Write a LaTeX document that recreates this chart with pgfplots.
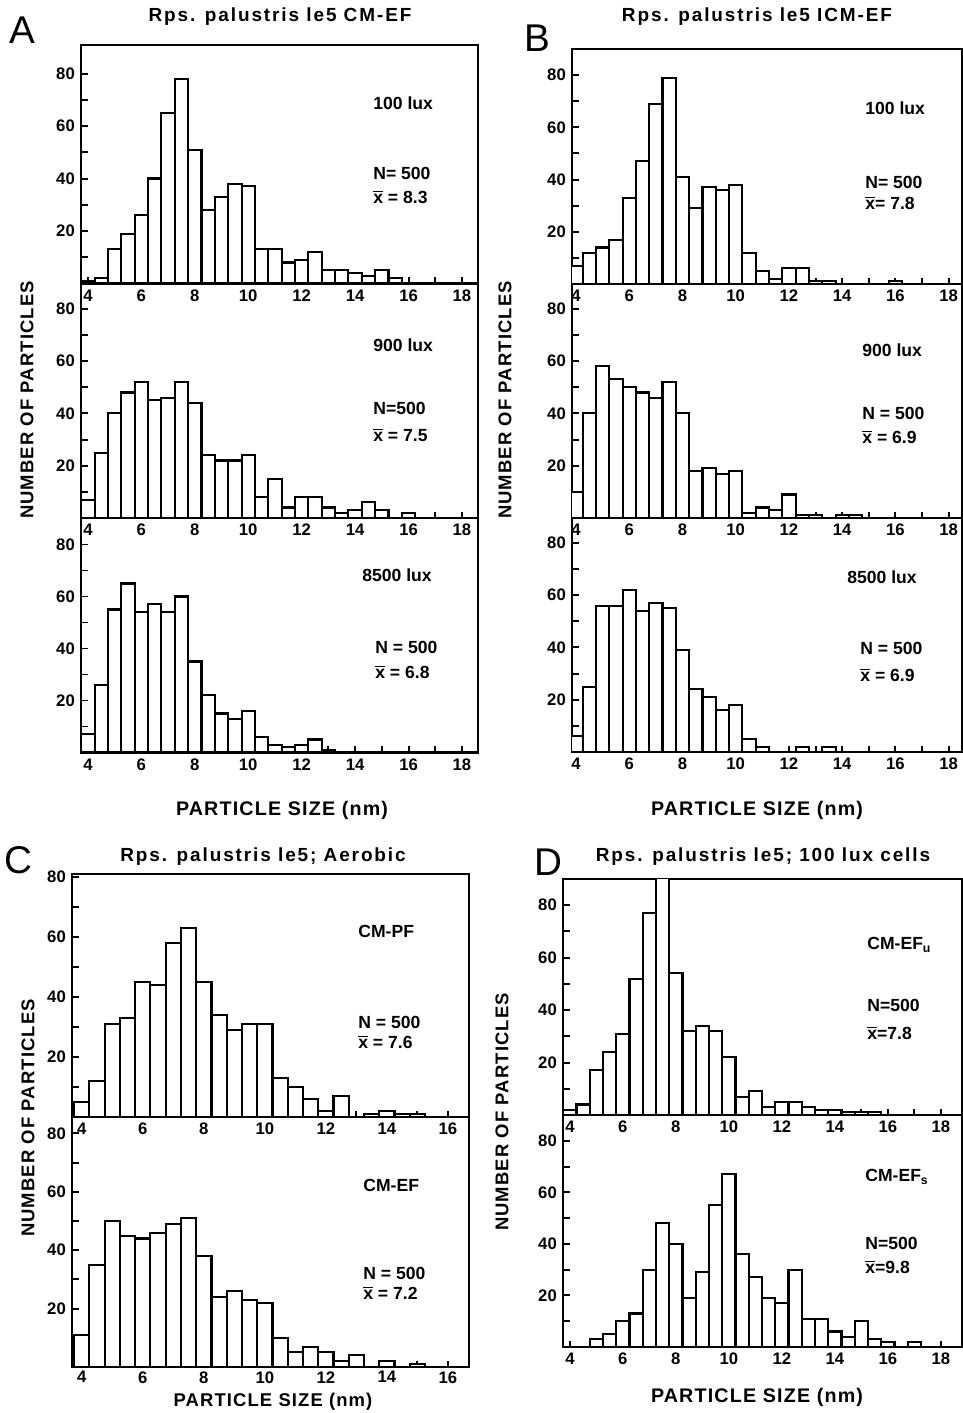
\documentclass[border=0pt]{standalone}
\usepackage{fontspec}
\setmainfont{Liberation Sans}
\newfontfamily\spaced{Liberation Sans}[LetterSpace=6]
\newfontfamily\wide{Liberation Sans}[LetterSpace=10]
\usepackage{pgfplots}
\pgfplotsset{compat=1.18}

\newcommand\xbar{$\overline{\hbox{x}}$}
\newcommand\ann{\bfseries\fontsize{10}{12}\selectfont}
\newcommand\lab{\spaced\bfseries\fontsize{10.5}{12}\selectfont}
\newcommand\xlab{\spaced\bfseries\fontsize{11.2}{12}\selectfont}
\newcommand\ttl{\wide\bfseries\fontsize{10.8}{12}\selectfont}

\pgfplotsset{
  hist/.style={
    scale only axis, anchor=south west,
    ybar, bar width=0.5,
    ymin=0, enlargelimits=false,
    axis line style={line width=1.4pt},
    every tick/.style={line width=1.1pt, black},
    major tick length=1.3mm, minor tick length=1.3mm,
    tick align=inside,
    xtick={4,6,...,18}, minor xtick={5,7,...,17},
    ytick={20,40,60,80}, minor ytick={10,30,50,70},
    xtick pos=bottom, ytick pos=left,
    tick label style={font=\bfseries\fontsize{9.5}{10}\selectfont},
    /pgf/number format/assume math mode=true,
  },
  bars/.style={draw=black, fill=white, line width=1.2pt},
}

\begin{document}
\begin{tikzpicture}
\path[use as bounding box] (0,0) rectangle (192.6mm,-282.6mm);

% ---------- panel A ----------
\begin{axis}[hist, at={(16.2mm,-56.7mm)}, width=79.4mm, height=47.7mm,
  xmin=3.74, xmax=18.6, ymax=90.9]
\addplot[bars] coordinates {(4,1) (4.5,2) (5,13) (5.5,19) (6,26) (6.5,40) (7,65) (7.5,78)
  (8,51) (8.5,28) (9,33) (9.5,38) (10,37) (10.5,13) (11,13) (11.5,8) (12,9) (12.5,12)
  (13,5) (13.5,5) (14,4) (14.5,3) (15,5) (15.5,2)};
\end{axis}
\begin{axis}[hist, at={(16.2mm,-103.6mm)}, width=79.4mm, height=46.9mm,
  xmin=3.74, xmax=18.6, ymax=89.7]
\addplot[bars] coordinates {(4,7) (4.5,25) (5,40) (5.5,48) (6,52) (6.5,45) (7,46) (7.5,52)
  (8,44) (8.5,24) (9,22) (9.5,22) (10,24) (10.5,8) (11,15) (11.5,4) (12,8) (12.5,8)
  (13,4) (13.5,2) (14,3) (14.5,6) (15,3) (16,2)};
\end{axis}
\begin{axis}[hist, at={(16.2mm,-150.5mm)}, width=79.4mm, height=46.9mm,
  xmin=3.74, xmax=18.6, ymax=90.2]
\addplot[bars] coordinates {(4,7) (4.5,26) (5,55) (5.5,65) (6,54) (6.5,57) (7,54) (7.5,60)
  (8,35) (8.5,22) (9,15) (9.5,13) (10,16) (10.5,6) (11,3) (11.5,2) (12,3) (12.5,5) (13,1)};
\end{axis}

% ---------- panel B ----------
\begin{axis}[hist, at={(114.4mm,-56.8mm)}, width=78.0mm, height=47.0mm,
  xmin=3.85, xmax=18.5, ymax=90]
\addplot[bars] coordinates {(4,7) (4.5,12) (5,14) (5.5,17) (6,33) (6.5,47) (7,69) (7.5,79)
  (8,41) (8.5,29) (9,37) (9.5,36) (10,38) (10.5,12) (11,5) (11.5,2) (12,6) (12.5,6)
  (13,1) (13.5,1) (16,1)};
\end{axis}
\begin{axis}[hist, at={(114.4mm,-103.6mm)}, width=78.0mm, height=46.8mm,
  xmin=3.85, xmax=18.5, ymax=89.5]
\addplot[bars] coordinates {(4,10) (4.5,40) (5,58) (5.5,53) (6,50) (6.5,48) (7,46) (7.5,52)
  (8,40) (8.5,18) (9,19) (9.5,17) (10,18) (10.5,2) (11,4) (11.5,3) (12,9) (12.5,1)
  (13,1) (14,1) (14.5,1)};
\end{axis}
\begin{axis}[hist, at={(114.4mm,-150.4mm)}, width=78.0mm, height=46.8mm,
  xmin=3.85, xmax=18.5, ymax=89.5]
\addplot[bars] coordinates {(4,6) (4.5,25) (5,56) (5.5,56) (6,62) (6.5,54) (7,57) (7.5,55)
  (8,39) (8.5,24) (9,21) (9.5,16) (10,18) (10.5,5) (11,2) (12.5,2) (13.5,2)};
\end{axis}

% ---------- panel C ----------
\begin{axis}[hist, at={(14.4mm,-223.4mm)}, width=79.4mm, height=48.6mm,
  xmin=3.68, xmax=16.69, ymax=81]
\addplot[bars] coordinates {(4,5) (4.5,12) (5,31) (5.5,33) (6,45) (6.5,44) (7,58) (7.5,63)
  (8,45) (8.5,34) (9,29) (9.5,31) (10,31) (10.5,13) (11,10) (11.5,6) (12,2) (12.5,7)
  (13.5,1) (14,2) (14.5,1) (15,1)};
\end{axis}
\begin{axis}[hist, at={(14.4mm,-273.4mm)}, width=79.4mm, height=50.0mm,
  xmin=3.68, xmax=16.69, ymax=85.6,
  xticklabel style={yshift=1pt}]
\addplot[bars] coordinates {(4,11) (4.5,35) (5,50) (5.5,45) (6,44) (6.5,46) (7,49) (7.5,51)
  (8,38) (8.5,24) (9,26) (9.5,23) (10,22) (10.5,10) (11,5) (11.5,7) (12,5) (12.5,2)
  (13,4) (14,2) (15,1)};
\end{axis}

% ---------- panel D ----------
\begin{axis}[hist, at={(112.6mm,-223.0mm)}, width=79.8mm, height=47.2mm,
  xmin=3.74, xmax=18.8, ymax=90]
\addplot[bars] coordinates {(4,2) (4.5,4) (5,17) (5.5,24) (6,31) (6.5,52) (7,77) (7.5,98)
  (8,54) (8.5,32) (9,34) (9.5,32) (10,22) (10.5,7) (11,9) (11.5,3) (12,5) (12.5,5)
  (13,3) (13.5,2) (14,2) (14.5,1) (15,1) (15.5,1)};
\end{axis}
\begin{axis}[hist, at={(112.6mm,-269.4mm)}, width=79.8mm, height=46.4mm,
  xmin=3.74, xmax=18.8, ymax=90]
\addplot[bars] coordinates {(5,3) (5.5,5) (6,10) (6.5,13) (7,30) (7.5,48) (8,40) (8.5,19)
  (9,29) (9.5,55) (10,67) (10.5,36) (11,27) (11.5,19) (12,17) (12.5,30) (13,11) (13.5,11)
  (14,6) (14.5,4) (15,10) (15.5,3) (16,2) (17,2)};
\end{axis}

% ---------- titles, panel letters, axis labels ----------
\node[font=\ttl] at (56.0mm,-3.4mm) {Rps. palustris le5 CM-EF};
\node[font=\ttl] at (151.4mm,-3.4mm) {Rps. palustris le5 ICM-EF};
\node[font=\ttl] at (52.6mm,-171.4mm) {Rps. palustris le5; Aerobic};
\node[font=\ttl] at (152.6mm,-171.4mm) {Rps. palustris le5; 100 lux cells};

\node[font=\fontsize{22}{24}\selectfont] at (4.4mm,-6.0mm) {A};
\node[font=\fontsize{22}{24}\selectfont] at (107.4mm,-7.6mm) {B};
\node[font=\fontsize{22}{24}\selectfont] at (3.6mm,-172.0mm) {C};
\node[font=\fontsize{22}{24}\selectfont] at (109.6mm,-172.4mm) {D};

\node[font=\lab, rotate=90] at (5.4mm,-80mm) {NUMBER OF PARTICLES};
\node[font=\lab, rotate=90] at (101mm,-80mm) {NUMBER OF PARTICLES};
\node[font=\lab, rotate=90] at (5.6mm,-223.6mm) {NUMBER OF PARTICLES};
\node[font=\lab, rotate=90] at (100.4mm,-222.4mm) {NUMBER OF PARTICLES};

\node[font=\xlab] at (56.4mm,-162mm) {PARTICLE SIZE (nm)};
\node[font=\xlab] at (151.4mm,-162mm) {PARTICLE SIZE (nm)};
\node[font=\lab, inner sep=0pt] at (54.6mm,-280.3mm) {PARTICLE SIZE (nm)};
\node[font=\xlab] at (151.4mm,-279.4mm) {PARTICLE SIZE (nm)};

% ---------- annotations ----------
\begin{scope}[every node/.style={anchor=west, font=\ann, inner sep=0pt}]
\node at (74.6mm,-20.6mm) {100 lux};
\node at (74.6mm,-34.6mm) {N= 500};
\node at (74.6mm,-39.4mm) {\xbar\ = 8.3};
\node at (74.6mm,-69.0mm) {900 lux};
\node at (74.6mm,-81.6mm) {N=500};
\node at (74.6mm,-87.0mm) {\xbar\ = 7.5};
\node at (72.4mm,-115.0mm) {8500 lux};
\node at (75.0mm,-129.4mm) {N = 500};
\node at (75.0mm,-134.4mm) {\xbar\ = 6.8};

\node at (173.0mm,-21.6mm) {100 lux};
\node at (173.0mm,-36.4mm) {N= 500};
\node at (173.0mm,-40.6mm) {\xbar= 7.8};
\node at (172.4mm,-70.0mm) {900 lux};
\node at (172.4mm,-82.6mm) {N = 500};
\node at (172.4mm,-87.4mm) {\xbar\ = 6.9};
\node at (169.4mm,-115.4mm) {8500 lux};
\node at (172.0mm,-129.6mm) {N = 500};
\node at (172.0mm,-135.0mm) {\xbar\ = 6.9};

\node at (71.6mm,-186.2mm) {CM-PF};
\node at (71.6mm,-204.4mm) {N = 500};
\node at (71.6mm,-208.4mm) {\xbar\ = 7.6};
\node at (72.6mm,-237.0mm) {CM-EF};
\node at (72.6mm,-254.6mm) {N = 500};
\node at (72.6mm,-258.6mm) {\xbar\ = 7.2};

\node at (173.4mm,-189.0mm) {CM-EF\textsubscript{u}};
\node at (173.4mm,-201.0mm) {N=500};
\node at (173.4mm,-206.6mm) {\xbar=7.8};
\node at (173.0mm,-235.4mm) {CM-EF\textsubscript{s}};
\node at (173.0mm,-248.6mm) {N=500};
\node at (173.0mm,-253.4mm) {\xbar=9.8};
\end{scope}
\end{tikzpicture}
\end{document}
